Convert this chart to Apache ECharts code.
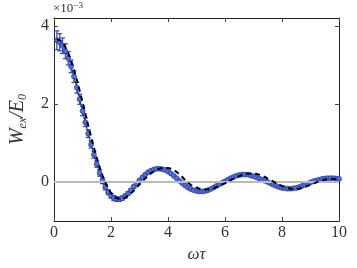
<!DOCTYPE html>
<html><head><meta charset="utf-8">
<script src="https://cdn.jsdelivr.net/npm/echarts@6/dist/echarts.min.js"></script>
<style>html,body{margin:0;padding:0;background:#fff}#c{width:357px;height:268px}</style>
</head><body><div id="c"></div>
<script>
const xs = [0.1,0.2,0.3,0.4,0.5,0.6,0.7,0.8,0.9,1.0,1.1,1.2,1.3,1.4,1.5,1.6,1.7,1.8,1.9,2.0,
2.1,2.2,2.3,2.4,2.5,2.6,2.7,2.8,2.9,3.0,3.1,3.2,3.3,3.4,3.5,3.6,3.7,3.8,3.9,4.0,
4.1,4.2,4.3,4.4,4.5,4.6,4.7,4.8,4.9,5.0,5.1,5.2,5.3,5.4,5.5,5.6,5.7,5.8,5.9,6.0,
6.1,6.2,6.3,6.4,6.5,6.6,6.7,6.8,6.9,7.0,7.1,7.2,7.3,7.4,7.5,7.6,7.7,7.8,7.9,8.0,
8.1,8.2,8.3,8.4,8.5,8.6,8.7,8.8,8.9,9.0,9.1,9.2,9.3,9.4,9.5,9.6,9.7,9.8,9.9,10.0];
const blueY = [3.63,3.58,3.49,3.35,3.17,2.96,2.70,2.42,2.12,1.82,1.53,1.24,0.96,0.70,0.46,0.23,0.03,-0.13,-0.26,-0.35,
-0.41,-0.44,-0.44,-0.41,-0.36,-0.29,-0.21,-0.12,-0.04,0.04,0.12,0.19,0.25,0.29,0.32,0.34,0.34,0.33,0.31,0.27,
0.22,0.16,0.10,0.03,-0.03,-0.09,-0.14,-0.18,-0.21,-0.23,-0.24,-0.24,-0.23,-0.21,-0.18,-0.14,-0.10,-0.06,-0.02,0.02,
0.06,0.10,0.13,0.16,0.18,0.19,0.19,0.19,0.17,0.15,0.12,0.09,0.06,0.03,0.00,-0.04,-0.07,-0.10,-0.13,-0.15,
-0.16,-0.17,-0.17,-0.16,-0.15,-0.13,-0.10,-0.07,-0.04,-0.01,0.02,0.04,0.06,0.08,0.09,0.10,0.10,0.10,0.09,0.08];
const blueErr = [0.24,0.22,0.20,0.19,0.17,0.16,0.15,0.14,0.13,0.12,0.11,0.10,0.09,0.09,0.08,0.08,0.07,0.07,0.06,0.06,
0.06,0.05,0.05,0.05,0.05,0.04,0.04,0.04,0.04,0.03];
const dashY = [3.66,3.63,3.56,3.45,3.30,3.11,2.88,2.62,2.34,2.05,1.75,1.45,1.16,0.88,0.62,0.38,0.17,-0.01,-0.16,-0.28,
-0.36,-0.41,-0.43,-0.43,-0.40,-0.35,-0.29,-0.22,-0.14,-0.06,0.02,0.09,0.16,0.22,0.27,0.31,0.34,0.36,0.36,0.36,
0.34,0.31,0.26,0.20,0.13,0.05,-0.02,-0.07,-0.11,-0.14,-0.17,-0.18,-0.19,-0.19,-0.18,-0.16,-0.13,-0.10,-0.06,-0.03,
0.01,0.05,0.09,0.12,0.15,0.18,0.20,0.21,0.22,0.22,0.21,0.19,0.16,0.13,0.09,0.05,0.01,-0.03,-0.07,-0.10,
-0.13,-0.15,-0.17,-0.18,-0.18,-0.17,-0.15,-0.13,-0.10,-0.07,-0.04,-0.01,0.02,0.04,0.06,0.07,0.08,0.08,0.07,0.06];
const yTicks = [0,2,4];

const serif = 'Liberation Serif';
const chart = echarts.init(document.getElementById('c'), null, {renderer:'canvas'});
const axisLine = {show:true, onZero:false, lineStyle:{color:'#222', width:1}};
const labelStyle = {fontFamily:serif, fontSize:16, color:'#333'};
chart.setOption({
  animation:false,
  grid:{left:53, right:18, top:18, bottom:36},
  xAxis:[
    {type:'value', min:0, max:10, interval:2, position:'bottom',
     axisLine:axisLine, axisTick:{inside:true, length:4, lineStyle:{color:'#444'}},
     axisLabel:Object.assign({margin:4}, labelStyle), splitLine:{show:false},
     name:'ωτ', nameLocation:'middle', nameGap:23,
     nameTextStyle:{fontFamily:serif, fontStyle:'italic', fontSize:17, color:'#333'}},
    {type:'value', min:0, max:10, interval:2, position:'top',
     axisLine:axisLine, axisTick:{inside:true, length:4, lineStyle:{color:'#444'}},
     axisLabel:{show:false}, splitLine:{show:false}}
  ],
  yAxis:[
    {type:'value', min:-1, max:4.2, position:'left',
     axisLine:axisLine,
     axisTick:{inside:true, length:4, customValues:yTicks, lineStyle:{color:'#444'}},
     axisLabel:Object.assign({margin:5, customValues:yTicks}, labelStyle), splitLine:{show:false},
     name:'{i|W}{s|ex}{i|/E}{s|0}', nameLocation:'middle', nameGap:25, nameRotate:90,
     nameTextStyle:{rich:{
       i:{fontFamily:serif, fontStyle:'italic', fontSize:20, color:'#333'},
       s:{fontFamily:serif, fontStyle:'italic', fontSize:12, color:'#333', padding:[10,0,0,0]}
     }}},
    {type:'value', min:-1, max:4.2, position:'right',
     axisLine:axisLine,
     axisTick:{inside:true, length:4, customValues:yTicks, lineStyle:{color:'#444'}},
     axisLabel:{show:false}, splitLine:{show:false}}
  ],
  graphic:[{type:'text', left:53, top:1, style:{
    text:'{a|×10}{b|−3}', rich:{a:{fontFamily:serif, fontSize:13, fill:'#333'}, b:{fontFamily:serif, fontSize:9, fill:'#333', padding:[0,0,7,0]}}
  }}],
  series:[
    {type:'line', data:[], markLine:{silent:true, symbol:'none', label:{show:false},
      lineStyle:{color:'#bbbbbb', width:2, type:'solid'}, data:[{yAxis:0}]}, z:1},
    {type:'custom', z:3,
     data:blueErr.map((e,i)=>[xs[i], blueY[i], e]),
     renderItem:function(params, api){
       const x=api.value(0), y=api.value(1), e=api.value(2);
       const p1=api.coord([x,y+e]), p2=api.coord([x,y-e]);
       const st={stroke:'#3d4fc4', lineWidth:1.3};
       return {type:'group', children:[
         {type:'line', shape:{x1:p1[0],y1:p1[1],x2:p2[0],y2:p2[1]}, style:st},
         {type:'line', shape:{x1:p1[0]-2.5,y1:p1[1],x2:p1[0]+2.5,y2:p1[1]}, style:st},
         {type:'line', shape:{x1:p2[0]-2.5,y1:p2[1],x2:p2[0]+2.5,y2:p2[1]}, style:st}
       ]};
     }},
    {type:'line', z:4, data:xs.map((x,i)=>[x, blueY[i]]), symbol:'circle', symbolSize:5, showAllSymbol:true,
     itemStyle:{color:'#4a70e2', borderColor:'#1c2a8c', borderWidth:0.6},
     lineStyle:{color:'#1c2a8c', width:1}},
    {type:'line', z:5, data:xs.map((x,i)=>[x, dashY[i]]), symbol:'none', smooth:false,
     lineStyle:{color:'#000', width:2, type:[5,4]}}
  ]
});
</script></body></html>
